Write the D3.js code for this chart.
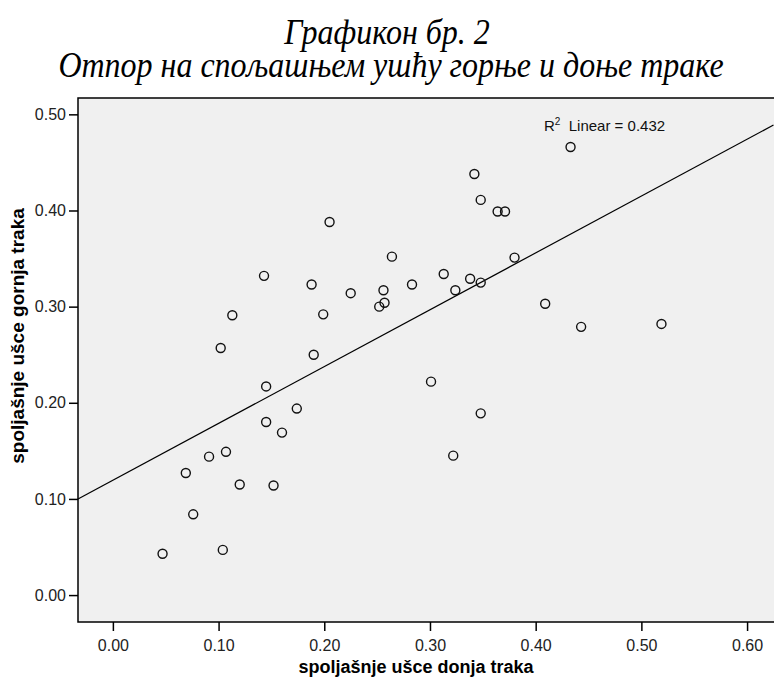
<!DOCTYPE html>
<html>
<head>
<meta charset="utf-8">
<script src="https://cdn.jsdelivr.net/npm/d3@7"></script>
<style>
  body { margin: 0; background: #fff; }
  svg text { font-family: "Liberation Sans", Arial, sans-serif; }
</style>
</head>
<body>
<svg id="chart" width="774" height="681"></svg>
<script>
// data
var donjaTraka = [0.047, 0.104, 0.076, 0.069, 0.091, 0.107, 0.120, 0.152, 0.145, 0.160,
                  0.174, 0.145, 0.190, 0.102, 0.113, 0.143, 0.188, 0.199, 0.205, 0.225,
                  0.256, 0.257, 0.252, 0.264, 0.283, 0.313, 0.301, 0.324, 0.338, 0.348,
                  0.342, 0.348, 0.364, 0.371, 0.380, 0.322, 0.348, 0.409, 0.443, 0.433, 0.519];
var gornjaTraka = [0.043, 0.047, 0.084, 0.127, 0.144, 0.149, 0.115, 0.114, 0.180, 0.169,
                   0.194, 0.217, 0.250, 0.257, 0.291, 0.332, 0.323, 0.292, 0.388, 0.314,
                   0.317, 0.304, 0.300, 0.352, 0.323, 0.334, 0.222, 0.317, 0.329, 0.325,
                   0.438, 0.411, 0.399, 0.399, 0.351, 0.145, 0.189, 0.303, 0.279, 0.466, 0.282];
var xTicks = [0.0, 0.1, 0.2, 0.3, 0.4, 0.5, 0.6];
var yTicks = [0.0, 0.1, 0.2, 0.3, 0.4, 0.5];
var fitIntercept = 0.1195;
var fitSlope = 0.591;
var rSquared = "0.432";

var svg = d3.select("#chart");

var plotLeft = 78, plotTop = 98, plotRight = 773.5, plotBottom = 622;

var x = d3.scaleLinear().domain([-0.033, 0.625]).range([plotLeft, plotRight]);
var y = d3.scaleLinear().domain([-0.028, 0.517]).range([plotBottom, plotTop]);

// titles (condensed italic serif, stretched a bit vertically)
function serifTitle(txt, cx, base) {
    svg.append("text")
        .attr("transform", "translate(" + cx + "," + base + ") scale(1,1.1)")
        .attr("text-anchor", "middle")
        .style("font-family", "'Liberation Serif', 'Times New Roman', serif")
        .style("font-style", "italic")
        .style("font-size", "32px")
        .text(txt);
}
serifTitle("Графикон бр. 2", 387, 44);
serifTitle("Отпор на спољашњем ушћу горње и доње траке", 391, 77);

// plot background
svg.append("rect")
    .attr("x", plotLeft).attr("y", plotTop)
    .attr("width", 720).attr("height", plotBottom - plotTop)
    .attr("fill", "#f0f0f0")
    .attr("stroke", "#000")
    .attr("stroke-width", 1.5);

// axes
var xAxis = d3.axisBottom(x).tickValues(xTicks).tickSize(9).tickSizeOuter(0)
    .tickFormat(d3.format(".2f"));
var yAxis = d3.axisLeft(y).tickValues(yTicks).tickSize(9).tickSizeOuter(0)
    .tickFormat(d3.format(".2f"));

var gx = svg.append("g").attr("transform", "translate(0," + plotBottom + ")").call(xAxis);
var gy = svg.append("g").attr("transform", "translate(" + plotLeft + ",0)").call(yAxis);

[gx, gy].forEach(function(g) {
    g.select(".domain").remove();
    g.selectAll(".tick line").attr("stroke", "#000").attr("stroke-width", 1.5);
    g.selectAll(".tick text")
        .style("font-family", "'Liberation Sans', Arial, sans-serif")
        .style("font-size", "16px")
        .attr("fill", "#222");
});
gx.selectAll(".tick text").attr("dy", "1.05em");
gy.selectAll(".tick text").attr("x", -12);

// axis titles
svg.append("text")
    .attr("x", 416).attr("y", 673)
    .attr("text-anchor", "middle")
    .style("font-weight", "bold")
    .style("font-size", "18px")
    .text("spoljašnje ušce donja traka");
svg.append("text")
    .attr("transform", "translate(24,336) rotate(-90)")
    .attr("text-anchor", "middle")
    .style("font-weight", "bold")
    .style("font-size", "19px")
    .text("spoljašnje ušce gornja traka");

// fit line
var xd = x.domain();
svg.append("line")
    .attr("x1", x(xd[0])).attr("y1", y(fitIntercept + fitSlope * xd[0]))
    .attr("x2", x(xd[1])).attr("y2", y(fitIntercept + fitSlope * xd[1]))
    .attr("stroke", "#000").attr("stroke-width", 1.2);

// points
svg.append("g").selectAll("circle")
    .data(donjaTraka)
    .enter()
    .append("circle")
    .attr("cx", function(d) { return x(d); })
    .attr("cy", function(d, i) { return y(gornjaTraka[i]); })
    .attr("r", 4.5)
    .attr("fill", "none")
    .attr("stroke", "#111")
    .attr("stroke-width", 1.4);

// R2 label
var r2 = svg.append("text")
    .attr("x", 544).attr("y", 131)
    .style("font-size", "15px")
    .attr("fill", "#111");
r2.append("tspan").text("R");
r2.append("tspan").attr("dy", -6).style("font-size", "10px").text("2");
r2.append("tspan").attr("dy", 6).text("\u00a0 Linear = " + rSquared);
</script>
</body>
</html>
